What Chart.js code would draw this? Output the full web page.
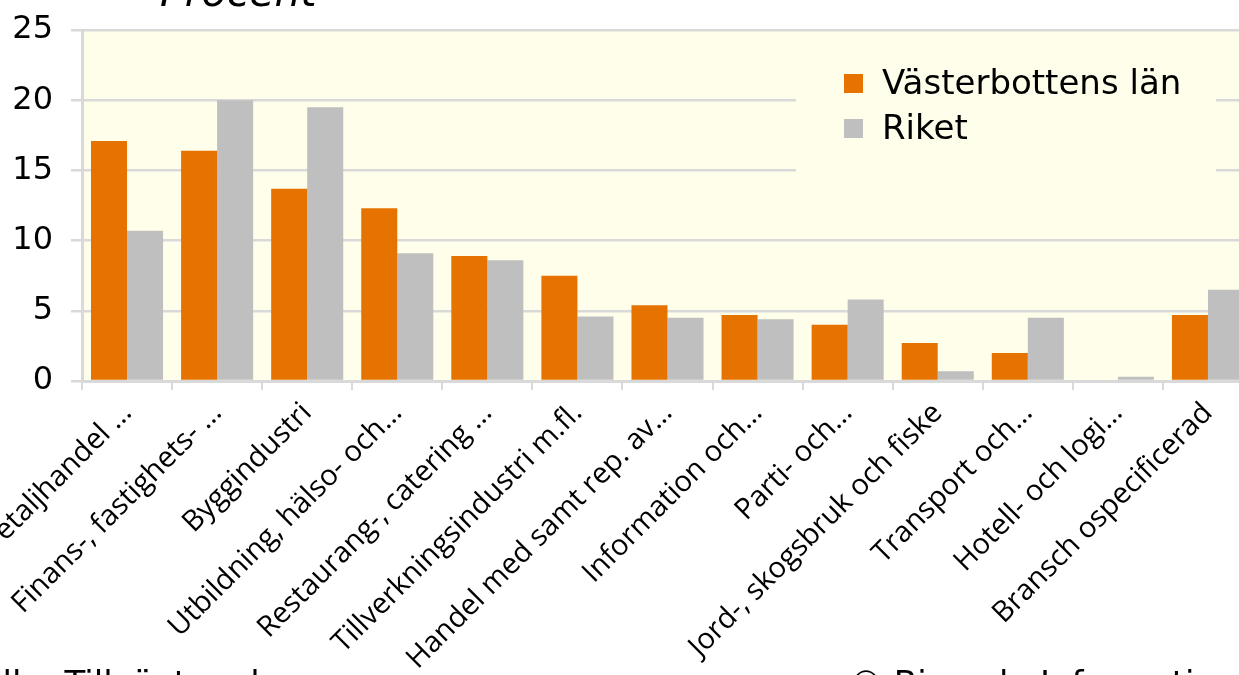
<!DOCTYPE html>
<html>
<head>
<meta charset="utf-8">
<script src="https://cdn.jsdelivr.net/npm/chart.js@4.4.1/dist/chart.umd.min.js"></script>
<style>
  body { margin: 0; background: white; overflow: hidden; }
  #wrap { position: relative; width: 1239px; height: 675px; overflow: hidden; }
  #chart { position: absolute; left: 0; top: -40px; }
</style>
</head>
<body>
<div id="wrap"><canvas id="chart" width="1270" height="760"></canvas></div>
<script>
// Data
const categories = [
    'Detaljhandel …',
    'Finans-, fastighets- …',
    'Byggindustri',
    'Utbildning, hälso- och…',
    'Restaurang-, catering …',
    'Tillverkningsindustri m.fl.',
    'Handel med samt rep. av…',
    'Information och…',
    'Parti- och…',
    'Jord-, skogsbruk och fiske',
    'Transport och…',
    'Hotell- och logi…',
    'Bransch ospecificerad'
];
const vasterbotten = [17.1, 16.4, 13.7, 12.3, 8.9, 7.5, 5.4, 4.7, 4.0, 2.7, 2.0, 0, 4.7];
const riket = [10.7, 20.0, 19.5, 9.1, 8.6, 4.6, 4.5, 4.4, 5.8, 0.7, 4.5, 0.3, 6.5];
const yTicks = [0, 5, 10, 15, 20, 25];

const seriesNames = ['Västerbottens län', 'Riket'];
const titleText = 'Procent';
const sourceText = 'Källa: Tillväxtanalys';
const copyText = '© Bisnode Information AB';

const ORANGE = '#e67300';
const GREY = '#bfbfbf';
const PLOT_BG = '#fffeea';
const GRID = '#d9d9d9';
const VERDANA = '"DejaVu Sans", Verdana, sans-serif';

// plot background + title + footer
const decorations = {
    id: 'decorations',
    beforeDraw(chart) {
        const { ctx, chartArea: a } = chart;
        ctx.save();
        ctx.fillStyle = PLOT_BG;
        ctx.fillRect(a.left, a.top, a.right - a.left, a.bottom - a.top);
        ctx.restore();
    },
    afterDraw(chart) {
        const { ctx, chartArea: a } = chart;
        ctx.save();
        ctx.fillStyle = '#000';
        ctx.textBaseline = 'alphabetic';
        ctx.font = 'italic 41px ' + VERDANA;
        ctx.fillText(titleText, a.left + 78, a.top - 24);
        ctx.font = '34px ' + VERDANA;
        ctx.textBaseline = 'top';
        ctx.fillText(sourceText, -40, 709);
        ctx.fillText(copyText, 849, 709);
        ctx.restore();
    }
};

// legend drawn inside the plot area, top right
const insideLegend = {
    id: 'insideLegend',
    beforeDatasetsDraw(chart) {
        const { ctx, chartArea: a } = chart;
        const x0 = a.left + 714;
        ctx.save();
        ctx.fillStyle = PLOT_BG;
        ctx.fillRect(x0, a.top + 25, 420, 120);
        ctx.font = '34px ' + VERDANA;
        ctx.textBaseline = 'middle';
        chart.data.datasets.forEach((ds, i) => {
            const cy = a.top + 54 + i * 45;
            ctx.fillStyle = ds.backgroundColor;
            ctx.fillRect(x0 + 48, cy - 10, 19, 19);
            ctx.fillStyle = '#000';
            ctx.fillText(ds.label, x0 + 86, cy + 1);
        });
        ctx.restore();
    }
};

new Chart(document.getElementById('chart'), {
    type: 'bar',
    data: {
        labels: categories,
        datasets: [
            { label: seriesNames[0], data: vasterbotten, backgroundColor: ORANGE },
            { label: seriesNames[1], data: riket, backgroundColor: GREY }
        ]
    },
    options: {
        responsive: false,
        animation: false,
        layout: { padding: { top: 70, left: 0, right: 17, bottom: 0 } },
        datasets: { bar: { categoryPercentage: 0.8, barPercentage: 1.0 } },
        plugins: {
            legend: { display: false },
            title: { display: false },
            tooltip: { enabled: false }
        },
        scales: {
            x: {
                offset: true,
                grid: {
                    offset: true,
                    drawOnChartArea: false,
                    drawTicks: true,
                    tickLength: 9,
                    color: GRID,
                    lineWidth: 2
                },
                border: { color: GRID, width: 3 },
                ticks: {
                    autoSkip: false,
                    maxRotation: 45,
                    minRotation: 45,
                    color: '#000',
                    padding: 6,
                    font: { family: '"Open Sans", sans-serif', size: 29 }
                },
                afterFit(scale) {
                    // labels may run off the left edge, like in the original
                    scale.height = 339;
                    scale.paddingLeft = 0;
                    scale.paddingRight = 0;
                }
            },
            y: {
                min: 0,
                max: 25,
                afterBuildTicks(scale) { scale.ticks = yTicks.map(v => ({ value: v })); },
                grid: { color: GRID, lineWidth: 2.5, tickLength: 11 },
                border: { color: GRID, width: 3 },
                ticks: {
                    color: '#000',
                    padding: 18,
                    font: { family: VERDANA, size: 32 }
                },
                afterFit(scale) { scale.width = 82; }
            }
        }
    },
    plugins: [decorations, insideLegend]
});
</script>
</body>
</html>
